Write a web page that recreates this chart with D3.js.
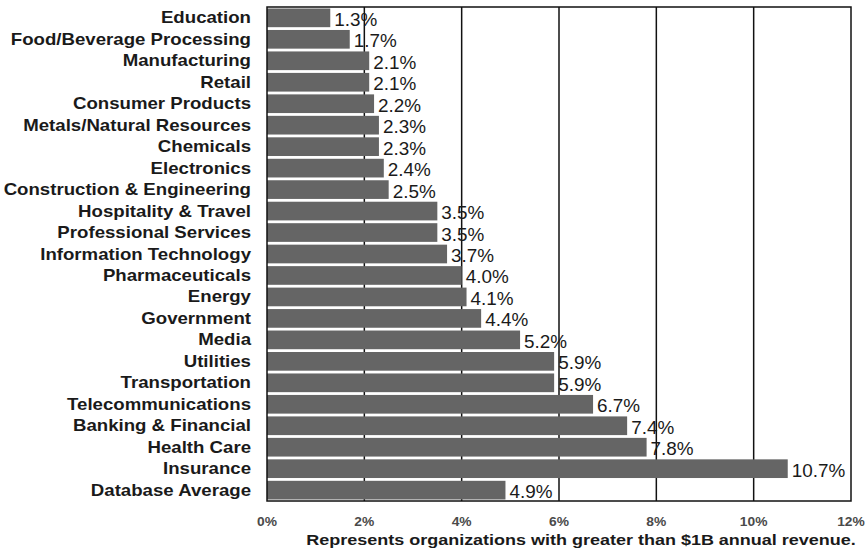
<!DOCTYPE html>
<html>
<head>
<meta charset="utf-8">
<script src="https://cdn.jsdelivr.net/npm/d3@7"></script>
<style>
  html, body { margin: 0; padding: 0; background: #fff; }
  svg { display: block; }
</style>
</head>
<body>
<svg id="chart" width="867" height="553"></svg>
<script>
// Share of organizations by industry (organizations with > $1B annual revenue)
const industries = [
  "Education", "Food/Beverage Processing", "Manufacturing", "Retail",
  "Consumer Products", "Metals/Natural Resources", "Chemicals", "Electronics",
  "Construction & Engineering", "Hospitality & Travel", "Professional Services",
  "Information Technology", "Pharmaceuticals", "Energy", "Government", "Media",
  "Utilities", "Transportation", "Telecommunications", "Banking & Financial",
  "Health Care", "Insurance", "Database Average"
];
const percents = [
  1.3, 1.7, 2.1, 2.1, 2.2, 2.3, 2.3, 2.4, 2.5, 3.5, 3.5, 3.7, 4.0, 4.1, 4.4,
  5.2, 5.9, 5.9, 6.7, 7.4, 7.8, 10.7, 4.9
];
const tickValues = [0, 2, 4, 6, 8, 10, 12];
const note = "Represents organizations with greater than $1B annual revenue.";

const svg = d3.select("#chart");
const plot = { left: 267, right: 851, top: 7, bottom: 501 };

const x = d3.scaleLinear().domain([0, 12]).range([plot.left, plot.right]);
const y = d3.scaleBand()
  .domain(industries)
  .range([plot.top, plot.bottom])
  .paddingInner(0.13)
  .paddingOuter(0.07);

// vertical gridlines (behind bars)
svg.append("g")
  .selectAll("line")
  .data(tickValues.slice(1, -1))
  .join("line")
  .attr("x1", d => x(d)).attr("x2", d => x(d))
  .attr("y1", plot.top).attr("y2", plot.bottom)
  .attr("stroke", "#111").attr("stroke-width", 1.5);

// bars
svg.append("g")
  .selectAll("rect")
  .data(industries)
  .join("rect")
  .attr("x", x(0))
  .attr("y", d => y(d))
  .attr("width", (d, i) => x(percents[i]) - x(0))
  .attr("height", y.bandwidth())
  .attr("fill", "#656565");

// plot frame
svg.append("rect")
  .attr("x", plot.left).attr("y", plot.top)
  .attr("width", plot.right - plot.left)
  .attr("height", plot.bottom - plot.top)
  .attr("fill", "none")
  .attr("stroke", "#111").attr("stroke-width", 1.5);

// category labels
svg.append("g")
  .selectAll("text")
  .data(industries)
  .join("text")
  .attr("transform", d => `translate(251,${y(d) + y.bandwidth() / 2 + 5.5}) scale(1.18,1)`)
  .attr("text-anchor", "end")
  .attr("font-family", "'Liberation Sans', Arial, sans-serif")
  .attr("font-weight", "bold")
  .attr("font-size", 15.8)
  .attr("fill", "#1a1a1a")
  .text(d => d);

// value labels
svg.append("g")
  .selectAll("text")
  .data(industries)
  .join("text")
  .attr("transform", (d, i) => `translate(${x(percents[i]) + 4},${y(d) + y.bandwidth() / 2 + 8}) scale(1.05,1)`)
  .attr("font-family", "'Liberation Sans', Arial, sans-serif")
  .attr("font-size", 18)
  .attr("fill", "#1a1a1a")
  .text((d, i) => percents[i].toFixed(1) + "%");

// x axis tick labels
svg.append("g")
  .selectAll("text")
  .data(tickValues)
  .join("text")
  .attr("transform", d => `translate(${x(d)},526) scale(1.15,1)`)
  .attr("text-anchor", "middle")
  .attr("font-family", "'Liberation Sans', Arial, sans-serif")
  .attr("font-weight", "bold")
  .attr("font-size", 12)
  .attr("fill", "#4a4a4a")
  .text(d => d + "%");

// footnote
svg.append("text")
  .attr("transform", "translate(581,545) scale(1.2,1)")
  .attr("text-anchor", "middle")
  .attr("font-family", "'Liberation Sans', Arial, sans-serif")
  .attr("font-weight", "bold")
  .attr("font-size", 15)
  .attr("fill", "#1a1a1a")
  .text(note);
</script>
</body>
</html>
